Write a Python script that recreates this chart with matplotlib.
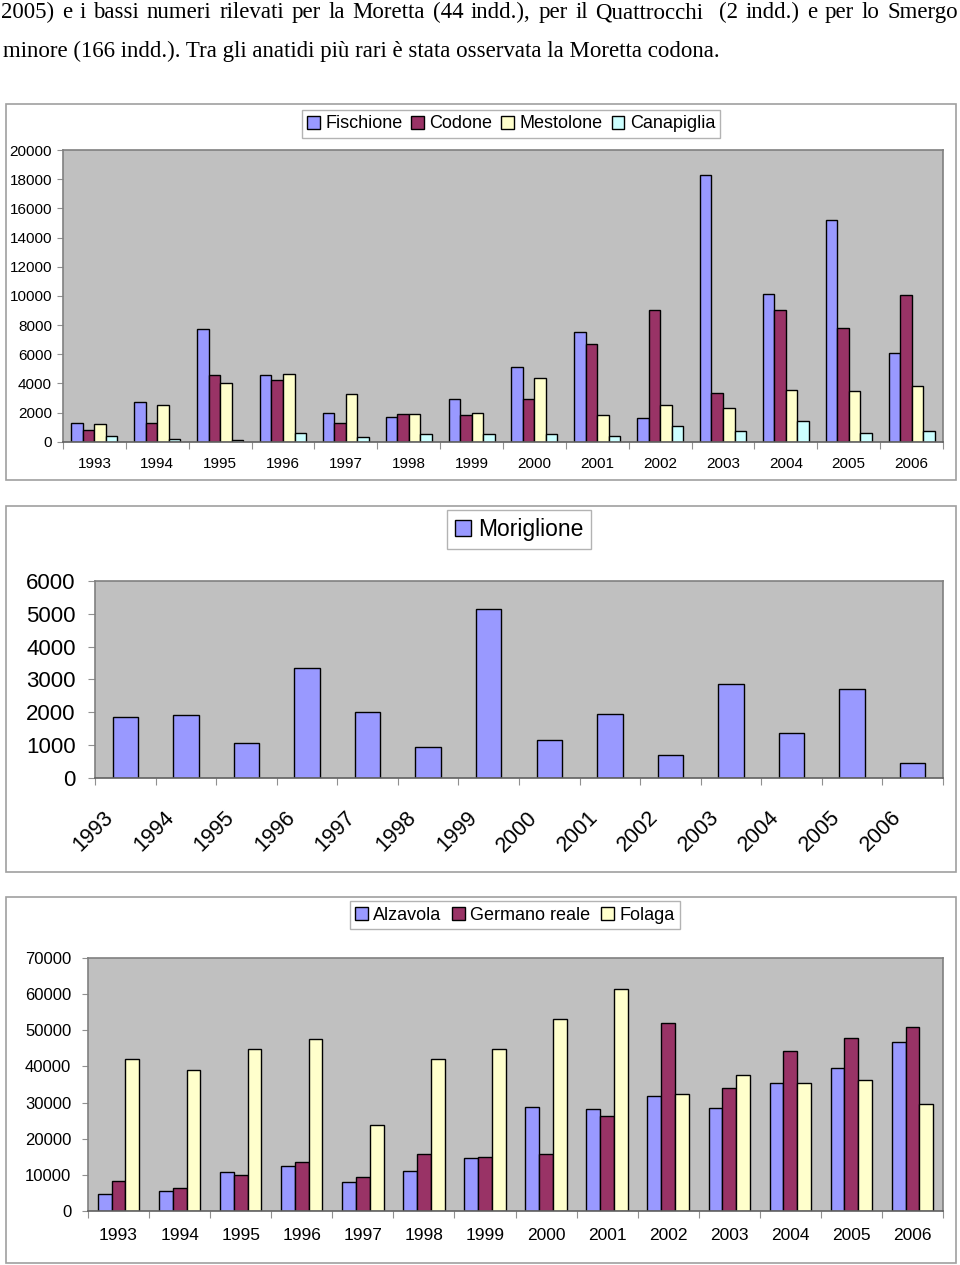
import matplotlib
matplotlib.use('Agg')
import matplotlib.pyplot as plt
from matplotlib.patches import Rectangle
from matplotlib.transforms import ScaledTranslation
import numpy as np

plt.rcParams['font.family'] = ['Liberation Sans', 'DejaVu Sans']

W, H = 960, 1265

# dati
years = [str(y) for y in range(1993, 2007)]

fischione = [1300, 2750, 7700, 4550, 2000, 1700, 2950, 5150, 7500, 1600, 18300, 10150, 15200, 6100]
codone = [800, 1300, 4550, 4250, 1300, 1900, 1800, 2900, 6700, 9000, 3350, 9050, 7800, 10050]
mestolone = [1200, 2500, 4050, 4650, 3250, 1900, 2000, 4350, 1800, 2500, 2300, 3550, 3450, 3850]
canapiglia = [400, 200, 100, 600, 300, 500, 500, 500, 400, 1100, 700, 1400, 600, 700]

moriglione = [1850, 1900, 1050, 3350, 2000, 950, 5150, 1150, 1950, 700, 2850, 1350, 2700, 450]

alzavola = [4600, 5600, 10800, 12500, 8000, 11100, 14600, 28900, 28200, 31700, 28600, 35500, 39700, 46700]
germano = [8400, 6300, 10000, 13500, 9400, 15700, 14900, 15700, 26400, 51900, 34100, 44300, 48000, 50800]
folaga = [42100, 39000, 44900, 47700, 23700, 42100, 44900, 53200, 61500, 32300, 37600, 35500, 36200, 29600]

c_blu = '#9999FF'
c_viola = '#993366'
c_giallo = '#FFFFCC'
c_azzurro = '#CCFFFF'

line1 = "2005) e i bassi numeri rilevati per la Moretta (44 indd.), per il Quattrocchi  (2 indd.) e per lo Smergo"
line2 = "minore (166 indd.). Tra gli anatidi più rari è stata osservata la Moretta codona."

fig = plt.figure(figsize=(W / 100, H / 100), dpi=100)
fig.patch.set_facecolor('white')


def px_axes(x0, y0, x1, y1):
    # rettangolo in pixel (dall'alto) -> axes
    return fig.add_axes([x0 / W, 1 - y1 / H, (x1 - x0) / W, (y1 - y0) / H])


def box(x0, y0, x1, y1):
    fig.add_artist(Rectangle((x0 / W, 1 - y1 / H), (x1 - x0) / W, (y1 - y0) / H,
                             transform=fig.transFigure, fill=False,
                             edgecolor='#A0A0A0', linewidth=1.2))


def style(ax, ymax, ystep, fs, ypad, xpad, ylen, xfs=None, rot=0):
    ax.set_facecolor('#C0C0C0')
    ax.set_xlim(0, 14)
    ax.set_ylim(0, ymax)
    ax.set_yticks(range(0, ymax + 1, ystep))
    ax.set_xticks(np.arange(15))
    ax.set_xticklabels([])
    ax.set_xticks(np.arange(14) + 0.5, minor=True)
    if rot:
        ax.set_xticklabels(years, minor=True, rotation=rot, ha='right',
                           va='center', rotation_mode='anchor')
    else:
        ax.set_xticklabels(years, minor=True)
    ax.tick_params(axis='x', which='major', length=5, color='#909090', direction='out')
    ax.tick_params(axis='x', which='minor', length=0, pad=xpad, labelsize=xfs or fs)
    ax.tick_params(axis='y', length=ylen, color='#909090', pad=ypad, labelsize=fs)
    for s in ['top', 'right', 'left']:
        ax.spines[s].set_color('#808080')
        ax.spines[s].set_linewidth(1.2)
    ax.spines['bottom'].set_color('#606060')
    ax.spines['bottom'].set_linewidth(1.2)


# testo in alto, prima riga giustificata
r = fig.canvas.get_renderer()
words = line1.split(' ')
txts = [fig.text(0, 1 - 18 / H, w, fontsize=16.5, family='Liberation Serif', va='baseline') for w in words]
widths = [t.get_window_extent(r).width for t in txts]
gap = (957 - sum(widths)) / (len(words) - 1)
x = 1
for t, w in zip(txts, widths):
    t.set_x(x / W)
    x += w + gap
fig.text(3 / W, 1 - 57 / H, line2, fontsize=16.5, family='Liberation Serif', va='baseline')

xc = np.arange(14) + 0.5

# grafico 1
box(6, 104, 956, 480)
ax1 = px_axes(63, 150, 943, 441.7)
bw = 0.183
series1 = [(fischione, c_blu, 'Fischione'), (codone, c_viola, 'Codone'),
           (mestolone, c_giallo, 'Mestolone'), (canapiglia, c_azzurro, 'Canapiglia')]
hs = []
for i, (vals, col, lab) in enumerate(series1):
    hs.append(ax1.bar(xc + (i - 1.5) * bw, vals, bw, color=col, edgecolor='black',
                      linewidth=1, label=lab))
style(ax1, 20000, 2000, 11, 4, 11, 4)
fig.legend(handles=hs, loc='center', bbox_to_anchor=(511 / W, 1 - 124 / H), ncol=4,
           fontsize=13, frameon=True, fancybox=False, edgecolor='#A0A0A0',
           handlelength=0.7, handleheight=0.7, handletextpad=0.3, columnspacing=0.5,
           borderpad=0.3, borderaxespad=0)

# grafico 2
box(6, 506, 956, 872)
ax2 = px_axes(95, 581, 943, 777.7)
h2 = ax2.bar(xc, moriglione, 0.42, color=c_blu, edgecolor='black', linewidth=1,
             label='Moriglione')
style(ax2, 6000, 1000, 16, 9, 20, 5, xfs=15.5, rot=45)
for lab in ax2.get_xticklabels(minor=True):
    lab.set_transform(lab.get_transform() + ScaledTranslation(-0.15, -0.09, fig.dpi_scale_trans))
fig.legend(handles=[h2], loc='center', bbox_to_anchor=(519 / W, 1 - 529.5 / H),
           fontsize=16.5, frameon=True, fancybox=False, edgecolor='#A0A0A0',
           handlelength=0.7, handleheight=0.7, handletextpad=0.3,
           borderpad=0.35, borderaxespad=0)

# grafico 3
box(6, 897, 956, 1263)
ax3 = px_axes(88, 958, 943, 1211)
bw3 = 0.226
series3 = [(alzavola, c_blu, 'Alzavola'), (germano, c_viola, 'Germano reale'),
           (folaga, c_giallo, 'Folaga')]
hs3 = []
for i, (vals, col, lab) in enumerate(series3):
    hs3.append(ax3.bar(xc + (i - 1) * bw3, vals, bw3, color=col, edgecolor='black',
                       linewidth=1, label=lab))
style(ax3, 70000, 10000, 12, 8, 12, 4, xfs=12.5)
fig.legend(handles=hs3, loc='center', bbox_to_anchor=(515 / W, 1 - 915 / H), ncol=3,
           fontsize=13, frameon=True, fancybox=False, edgecolor='#A0A0A0',
           handlelength=0.7, handleheight=0.7, handletextpad=0.3, columnspacing=0.6,
           borderpad=0.3, borderaxespad=0)

fig.savefig('out.png', dpi=100, facecolor='white')
